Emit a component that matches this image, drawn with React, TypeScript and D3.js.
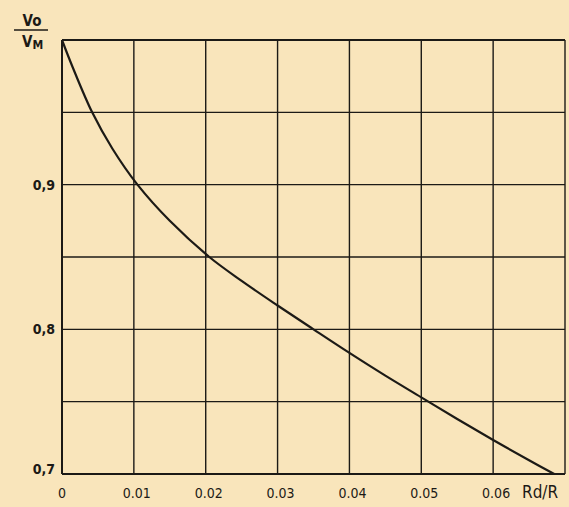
import React from 'react';
import * as d3 from 'd3';

// curve: Rd/R -> Vo/VM
const ratioX = [0, 0.0015, 0.0042, 0.007, 0.0105, 0.015, 0.0205, 0.025, 0.03, 0.035, 0.04, 0.045, 0.05, 0.055, 0.06, 0.065, 0.0685];
const voltY = [1.0, 0.981, 0.95, 0.925, 0.9, 0.875, 0.85, 0.8335, 0.8165, 0.8, 0.7837, 0.768, 0.753, 0.738, 0.7235, 0.7095, 0.7];

const xGrid = [0, 0.01, 0.02, 0.03, 0.04, 0.05, 0.06, 0.07];
const xTickLabels = ['0', '0.01', '0.02', '0.03', '0.04', '0.05', '0.06'];
const yGrid = [0.7, 0.75, 0.8, 0.85, 0.9, 0.95, 1.0];
const yTickValues = [0.7, 0.8, 0.9];
const yTickLabels = ['0,7', '0,8', '0,9'];

const W = 569;
const H = 507;
const LEFT = 62;
const RIGHT = 565;
const TOP = 40;
const BOTTOM = 474;

const INK = '#1c1a16';
const FONT = '"DejaVu Sans Condensed", "Liberation Sans Narrow", "Liberation Sans", sans-serif';

export default function App() {
  const x = d3.scaleLinear().domain([0, 0.07]).range([LEFT, RIGHT]);
  const y = d3.scaleLinear().domain([0.7, 1.0]).range([BOTTOM, TOP]);

  const pts: [number, number][] = ratioX.map((v, i) => [v, voltY[i]]);
  const line = d3
    .line<[number, number]>()
    .x(d => x(d[0]))
    .y(d => y(d[1]))
    .curve(d3.curveCatmullRom.alpha(0.5));

  return (
    <svg width={W} height={H} style={{ position: 'absolute', left: 0, top: 0, background: '#f9e5bb' }}>
      <rect x={0} y={0} width={W} height={H} fill="#f9e5bb" />
      {/* grid */}
      {xGrid.map(v => (
        <line key={'vx' + v} x1={x(v)} x2={x(v)} y1={TOP} y2={BOTTOM} stroke={INK} strokeWidth={v === 0 ? 2 : 1.4} />
      ))}
      {yGrid.map(v => (
        <line key={'hy' + v} x1={LEFT} x2={RIGHT} y1={y(v)} y2={y(v)} stroke={INK} strokeWidth={v === 0.7 || v === 1.0 ? 2 : 1.4} />
      ))}
      {/* curve */}
      <path d={line(pts) || ''} fill="none" stroke={INK} strokeWidth={2.2} />
      {/* x tick labels */}
      {xTickLabels.map((t, i) => (
        <text key={'xt' + t} x={x(xGrid[i]) + (i === 0 ? 0 : 3)} y={498} textAnchor="middle" fontFamily={FONT} fontSize={14} fill={INK}>
          {t}
        </text>
      ))}
      <text x={522} y={498} fontFamily={FONT} fontSize={17} fill={INK}>Rd/R</text>
      {/* y tick labels */}
      {yTickValues.map((v, i) => (
        <text key={'yt' + v} x={55} y={y(v) + (v === 0.7 ? 0 : 5)} textAnchor="end" fontFamily={FONT} fontSize={14} fontWeight="bold" fill={INK}>
          {yTickLabels[i]}
        </text>
      ))}
      {/* y title as a fraction */}
      <text x={32} y={26} textAnchor="middle" fontFamily={FONT} fontSize={15} fontWeight="bold" fill={INK}>Vo</text>
      <line x1={14} x2={48} y1={30} y2={30} stroke={INK} strokeWidth={1.6} />
      <text x={22} y={47} fontFamily={FONT} fontSize={15} fontWeight="bold" fill={INK}>V<tspan fontSize={12} dy={2}>M</tspan></text>
    </svg>
  );
}
